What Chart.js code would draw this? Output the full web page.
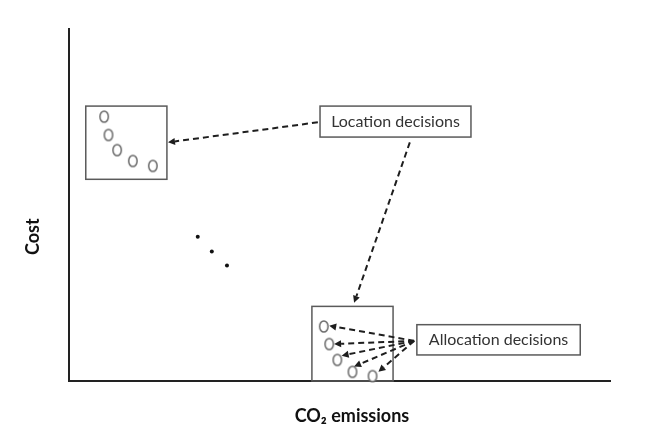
<!DOCTYPE html>
<html>
<head>
<meta charset="utf-8">
<script src="https://cdn.jsdelivr.net/npm/chart.js@4"></script>
<style>
html,body{margin:0;padding:0;background:#fff;}
#wrap{width:650px;height:441px;}
</style>
</head>
<body>
<div id="wrap"><canvas id="c" width="650" height="441"></canvas></div>
<script>
// ---- data (abstract units, 0..100 on both axes) ----
const xTitle = 'CO\u2082 emissions';
const yTitle = 'Cost';

const locationX = [6.5, 7.3, 8.9, 11.8, 15.5];
const locationY = [75.1, 69.9, 65.6, 62.5, 61.1];

const allocationX = [47.1, 48.1, 49.6, 52.4, 56.1];
const allocationY = [15.5, 10.5, 6.0, 2.6, 1.4];

const ellipsisX = [23.8, 26.4, 29.2];
const ellipsisY = [41.0, 36.8, 32.8];

// group boxes [x0, x1, y0, y1]
const locationBox = [3.1, 18.1, 57.3, 78.1];
const allocationBox = [44.9, 59.9, 0, 21.2];

// labels: text and box [x0, x1, y0, y1]
const locationLabel = 'Location decisions';
const locationLabelBox = [46.4, 74.3, 69.3, 78.1];
const allocationLabel = 'Allocation decisions';
const allocationLabelBox = [64.3, 94.5, 7.4, 16.0];

// arrows: [fromX, fromY, toX, toY]
const locationArrows = [[46.0, 73.5, 18.3, 67.8], [63.0, 67.8, 52.7, 22.2]];
const allocationFrom = [63.8, 11.4];
const allocationToX = [48.1, 49.0, 50.4, 52.7, 57.2];
const allocationToY = [15.7, 10.5, 7.2, 4.1, 2.6];

// axis title anchors (data units along the axis)
const xTitleAt = 52.3;
const yTitleAt = 41.0;

// ---- point style: outlined ellipse ----
function ellipseStyle() {
  const c = document.createElement('canvas');
  c.width = 12; c.height = 15;
  const g = c.getContext('2d');
  g.beginPath();
  g.ellipse(6, 7.5, 4.2, 5.6, 0, 0, Math.PI * 2);
  g.fillStyle = '#fff';
  g.fill();
  g.lineWidth = 1.5;
  g.strokeStyle = '#6a6a6a';
  g.stroke();
  return c;
}
const ell = ellipseStyle();

const toPts = (xs, ys) => xs.map((x, i) => ({x: x, y: ys[i]}));

const annot = {
  id: 'annot',
  beforeDatasetsDraw(chart) {
    const ctx = chart.ctx, xs = chart.scales.x, ys = chart.scales.y;
    ctx.save();
    ctx.strokeStyle = '#5a5a5a';
    ctx.lineWidth = 1.5;
    [locationBox, allocationBox].forEach(b => {
      const x0 = xs.getPixelForValue(b[0]), x1 = xs.getPixelForValue(b[1]);
      const y0 = ys.getPixelForValue(b[3]), y1 = ys.getPixelForValue(b[2]);
      ctx.strokeRect(x0, y0, x1 - x0, y1 - y0);
    });
    ctx.restore();
  },
  afterDatasetsDraw(chart) {
    const ctx = chart.ctx, xs = chart.scales.x, ys = chart.scales.y;
    const px = v => xs.getPixelForValue(v), py = v => ys.getPixelForValue(v);
    function arrow(a) {
      const x0 = px(a[0]), y0 = py(a[1]), x1 = px(a[2]), y1 = py(a[3]);
      const ang = Math.atan2(y1 - y0, x1 - x0);
      const hl = 7, hw = 3.5;
      const bx = x1 - hl * Math.cos(ang), by = y1 - hl * Math.sin(ang);
      ctx.save();
      ctx.strokeStyle = '#1e1e1e';
      ctx.lineWidth = 2;
      ctx.setLineDash([6, 4]);
      ctx.beginPath();
      ctx.moveTo(x0, y0);
      ctx.lineTo(bx, by);
      ctx.stroke();
      ctx.setLineDash([]);
      ctx.fillStyle = '#1e1e1e';
      ctx.beginPath();
      ctx.moveTo(x1, y1);
      ctx.lineTo(bx + hw * Math.sin(ang), by - hw * Math.cos(ang));
      ctx.lineTo(bx - hw * Math.sin(ang), by + hw * Math.cos(ang));
      ctx.closePath();
      ctx.fill();
      ctx.restore();
    }
    locationArrows.forEach(arrow);
    allocationToX.forEach((x, i) => arrow([allocationFrom[0], allocationFrom[1], x, allocationToY[i]]));

    function label(text, b) {
      const x0 = px(b[0]), x1 = px(b[1]), y0 = py(b[3]), y1 = py(b[2]);
      ctx.save();
      ctx.fillStyle = '#fff';
      ctx.fillRect(x0, y0, x1 - x0, y1 - y0);
      ctx.strokeStyle = '#5a5a5a';
      ctx.lineWidth = 1.5;
      ctx.strokeRect(x0, y0, x1 - x0, y1 - y0);
      ctx.fillStyle = '#333';
      ctx.font = '16px Lato';
      ctx.textAlign = 'center';
      ctx.textBaseline = 'middle';
      ctx.fillText(text, (x0 + x1) / 2, (y0 + y1) / 2 + 0.5);
      ctx.restore();
    }
    label(locationLabel, locationLabelBox);
    label(allocationLabel, allocationLabelBox);
  },
  afterDraw(chart) {
    const ctx = chart.ctx, xs = chart.scales.x, ys = chart.scales.y;
    ctx.save();
    ctx.fillStyle = '#111';
    ctx.textAlign = 'center';
    ctx.textBaseline = 'middle';
    ctx.font = 'bold 18px Lato';
    ctx.fillText(xTitle, xs.getPixelForValue(xTitleAt), chart.chartArea.bottom + 35);
    ctx.translate(chart.chartArea.left - 36, ys.getPixelForValue(yTitleAt));
    ctx.rotate(-Math.PI / 2);
    ctx.font = 'bold 18px Lato';
    ctx.fillText(yTitle, 0, 0);
    ctx.restore();
  }
};

new Chart(document.getElementById('c'), {
  type: 'scatter',
  data: {
    datasets: [
      {data: toPts(locationX, locationY), pointStyle: ell, clip: false},
      {data: toPts(allocationX, allocationY), pointStyle: ell, clip: false},
      {data: toPts(ellipsisX, ellipsisY), pointStyle: 'circle', pointRadius: 2,
       backgroundColor: '#111', borderColor: '#111', borderWidth: 0, clip: false}
    ]
  },
  options: {
    responsive: false,
    animation: false,
    layout: {padding: {left: 69, right: 40, top: 29, bottom: 60}},
    plugins: {legend: {display: false}, tooltip: {enabled: false}},
    scales: {
      x: {
        type: 'linear', min: 0, max: 100,
        grid: {display: false, drawTicks: false},
        ticks: {display: false},
        border: {display: true, color: '#222', width: 2},
        title: {display: false}
      },
      y: {
        type: 'linear', min: 0, max: 100,
        grid: {display: false, drawTicks: false},
        ticks: {display: false},
        border: {display: true, color: '#222', width: 2},
        title: {display: false}
      }
    }
  },
  plugins: [annot]
});
</script>
</body>
</html>
